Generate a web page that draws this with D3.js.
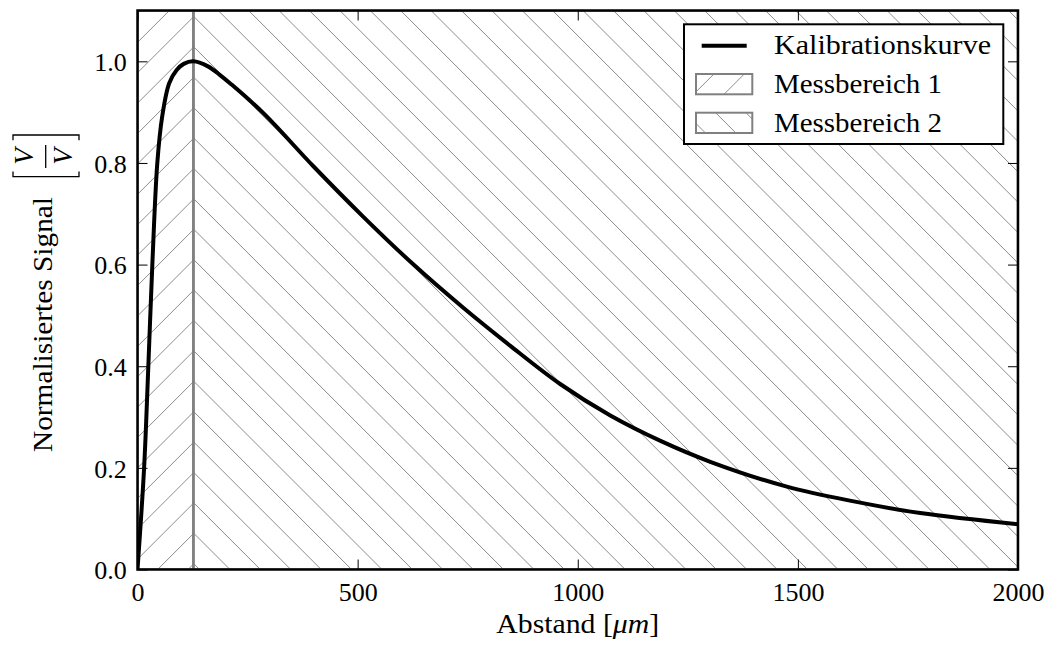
<!DOCTYPE html>
<html>
<head>
<meta charset="utf-8">
<script src="https://cdn.jsdelivr.net/npm/d3@7"></script>
<style>
  html, body { margin: 0; padding: 0; background: #fff; }
  svg { display: block; }
  text { font-family: "Liberation Serif", "Times New Roman", serif; fill: #000; }
</style>
</head>
<body>
<script>
// ---- data ----
const distance = [0, 15, 24.6, 33.7, 45, 56, 72, 89, 105, 127, 160, 187.5, 210, 286, 400, 513, 627, 740, 847, 960, 1074, 1188, 1301, 1475, 1627, 1778, 2000];
const signal   = [0, 0.2, 0.4, 0.6, 0.8, 0.891, 0.957, 0.983, 0.995, 1.0, 0.99, 0.973, 0.957, 0.898, 0.793, 0.694, 0.600, 0.515, 0.440, 0.365, 0.303, 0.253, 0.212, 0.163, 0.134, 0.111, 0.089];
const regionNames = ["Messbereich 1", "Messbereich 2"];
const regionStart = [0, 127];
const regionEnd = [127, 2000];
const regionHatch = ["/", "\\"];
const curveName = "Kalibrationskurve";
const xTicks = [0, 500, 1000, 1500, 2000];
const yTicks = [0.0, 0.2, 0.4, 0.6, 0.8, 1.0];
const xLabel = "Abstand ";
const yLabel = "Normalisiertes Signal";

// ---- layout ----
const W = 1049, H = 645;
const L = 137.5, R = 1018, T = 10.5, B = 569.5;
const x = d3.scaleLinear().domain([0, 2000]).range([L, R]);
const y = d3.scaleLinear().domain([0, 1.1]).range([B, T]);
const hatchStep = 30.4;
const hatchColor = "#8c8c8c";
const edgeColor = "#808080";

const svg = d3.select("body").append("svg").attr("width", W).attr("height", H);
const defs = svg.append("defs");
defs.append("clipPath").attr("id", "plotclip").append("rect")
  .attr("x", L).attr("y", T).attr("width", R - L).attr("height", B - T);

// hatch line generator in pixel space, clipped by a clip path
function hatch(g, dir, x0, x1, y0, y1, clipId) {
  defs.append("clipPath").attr("id", clipId).append("rect")
    .attr("x", x0).attr("y", y0).attr("width", x1 - x0).attr("height", y1 - y0);
  const hg = g.append("g").attr("clip-path", `url(#${clipId})`);
  const segs = [];
  if (dir === "\\") {
    const cMin = y0 - x1, cMax = y1 - x0;
    let c = 5.1 + Math.floor((cMin - 5.1) / hatchStep) * hatchStep;
    for (; c <= cMax + hatchStep; c += hatchStep) {
      segs.push([x0 - 5, x0 - 5 + c, x1 + 5, x1 + 5 + c]);
    }
  } else {
    const dMin = y0 + x0, dMax = y1 + x1;
    let d = 27.9 + Math.floor((dMin - 27.9) / hatchStep) * hatchStep;
    for (; d <= dMax + hatchStep; d += hatchStep) {
      segs.push([x0 - 5, d - (x0 - 5), x1 + 5, d - (x1 + 5)]);
    }
  }
  hg.selectAll("line").data(segs).join("line")
    .attr("x1", s => s[0]).attr("y1", s => s[1])
    .attr("x2", s => s[2]).attr("y2", s => s[3])
    .attr("stroke", hatchColor).attr("stroke-width", 1);
}

// ---- regions ----
const regG = svg.append("g");
regionNames.forEach((n, i) => {
  hatch(regG, regionHatch[i], x(regionStart[i]), x(regionEnd[i]), y(1.1), y(0), "reg" + i);
});
const edgeG = svg.append("g").attr("clip-path", "url(#plotclip)");
regionNames.forEach((n, i) => {
  edgeG.append("rect")
    .attr("x", x(regionStart[i])).attr("y", y(1.1))
    .attr("width", x(regionEnd[i]) - x(regionStart[i]))
    .attr("height", y(0) - y(1.1))
    .attr("fill", "none").attr("stroke", edgeColor).attr("stroke-width", 2.5);
});

// ---- curve ----
const pts = distance.map((d, i) => [d, signal[i]]);
svg.append("path")
  .attr("clip-path", "url(#plotclip)")
  .attr("d", d3.line().x(d => x(d[0])).y(d => y(d[1])).curve(d3.curveCatmullRom.alpha(0.5))(pts))
  .attr("fill", "none").attr("stroke", "#000").attr("stroke-width", 4)
  .attr("stroke-linejoin", "round");

// ---- axes ----
function styleAxis(g) {
  g.select(".domain").remove();
  g.selectAll(".tick line").attr("stroke", "#000").attr("stroke-width", 1);
  g.selectAll(".tick text").style("font-family", '"Liberation Serif", serif').attr("font-size", 26).attr("fill", "#000");
}
svg.append("g").attr("transform", `translate(0,${B})`)
  .call(d3.axisBottom(x).tickValues(xTicks).tickFormat(d3.format("d")).tickSizeInner(-10).tickSizeOuter(0).tickPadding(12.7))
  .call(styleAxis);
svg.append("g").attr("transform", `translate(0,${T})`)
  .call(d3.axisTop(x).tickValues(xTicks).tickFormat("").tickSizeInner(-10).tickSizeOuter(0))
  .call(styleAxis);
const yAx = svg.append("g").attr("transform", `translate(${L},0)`)
  .call(d3.axisLeft(y).tickValues(yTicks).tickFormat(d3.format(".1f")).tickSizeInner(-10).tickSizeOuter(0).tickPadding(10.8))
  .call(styleAxis);
yAx.selectAll(".tick text").attr("dy", "0.36em");
svg.append("g").attr("transform", `translate(${R},0)`)
  .call(d3.axisRight(y).tickValues(yTicks).tickFormat("").tickSizeInner(-10).tickSizeOuter(0))
  .call(styleAxis);

// spines
svg.append("rect").attr("x", L).attr("y", T).attr("width", R - L).attr("height", B - T)
  .attr("fill", "none").attr("stroke", "#000").attr("stroke-width", 2.5);

// ---- axis labels ----
const xl = svg.append("text").attr("x", (L + R) / 2).attr("y", 632.7)
  .attr("text-anchor", "middle").attr("font-size", 27)
  .attr("textLength", 163).attr("lengthAdjust", "spacingAndGlyphs");
xl.append("tspan").text(xLabel + "[");
xl.append("tspan").attr("font-style", "italic").text("μm");
xl.append("tspan").text("]");

const yl = svg.append("g").attr("transform", "translate(52,452) rotate(-90)");
yl.append("text").attr("x", 0).attr("y", 0).attr("font-size", 27)
  .attr("textLength", 255).attr("lengthAdjust", "spacingAndGlyphs").text(yLabel);
// fraction [V/V]
yl.append("text").attr("x", 295.5).attr("y", -19).attr("text-anchor", "middle")
  .attr("font-size", 27).attr("font-style", "italic").text("V");
yl.append("text").attr("x", 295.5).attr("y", 20).attr("text-anchor", "middle")
  .attr("font-size", 27).attr("font-style", "italic").text("V");
yl.append("line").attr("x1", 284).attr("x2", 307).attr("y1", -6.3).attr("y2", -6.3)
  .attr("stroke", "#000").attr("stroke-width", 1.3);
yl.append("path").attr("d", "M280.5,-39 L275.3,-39 L275.3,27 L280.5,27")
  .attr("fill", "none").attr("stroke", "#000").attr("stroke-width", 1.3);
yl.append("path").attr("d", "M311.8,-39 L317,-39 L317,27 L311.8,27")
  .attr("fill", "none").attr("stroke", "#000").attr("stroke-width", 1.3);

// ---- legend ----
const lg = svg.append("g");
lg.append("rect").attr("x", 684).attr("y", 24.3).attr("width", 319.3).attr("height", 119.7)
  .attr("fill", "#fff").attr("stroke", "#000").attr("stroke-width", 2);
lg.append("line").attr("x1", 701.7).attr("x2", 746.7).attr("y1", 45.7).attr("y2", 45.7)
  .attr("stroke", "#000").attr("stroke-width", 4);
const legendNames = [curveName].concat(regionNames);
const legendBase = [54.3, 93.3, 131.7];
const legendWidth = [217, 168, 168];
const patchTop = [74, 112.7];
regionNames.forEach((n, i) => {
  hatch(lg, regionHatch[i], 696, 752.3, patchTop[i], patchTop[i] + 20.3, "leg" + i);
  lg.append("rect").attr("x", 696).attr("y", patchTop[i]).attr("width", 56.3).attr("height", 20.3)
    .attr("fill", "none").attr("stroke", edgeColor).attr("stroke-width", 2);
});
legendNames.forEach((n, i) => {
  lg.append("text").attr("x", 774).attr("y", legendBase[i]).attr("font-size", 27)
    .attr("textLength", legendWidth[i]).attr("lengthAdjust", "spacingAndGlyphs").text(n);
});
</script>
</body>
</html>
